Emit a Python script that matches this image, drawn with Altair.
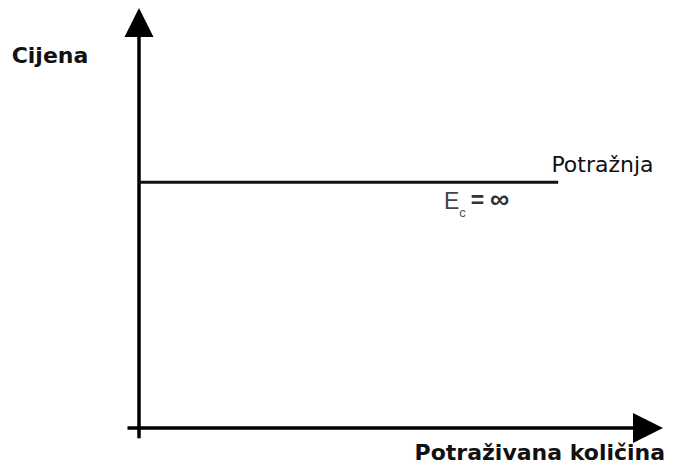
import altair as alt
import pandas as pd

# --- schematic data (quantity / price units, 0..100 for the axes) ---
AXIS_MAX = 100.0          # tip of each axis arrow
AXIS_START = -2.2         # small overhang of each axis past the origin
LINE_END = 96.0           # axis lines end under the arrow heads
demand_price = [58.5]     # perfectly elastic demand: constant price
demand_q = [0.0, 80.0]    # drawn from q = 0 to q = 80

price_label = "Cijena"
quantity_label = "Potraživana količina"
demand_label = "Potražnja"
elasticity_E = "E"
elasticity_sub = "c"
elasticity_eq = "="
elasticity_inf = "∞"

# --- scales: map data units onto the 662x455 canvas ---
PX_X = 5.24
PX_Y = 4.2
W, H = 662, 455
XMIN = -131 / PX_X
XMAX = XMIN + W / PX_X
YMAX = 100.0
YMIN = YMAX - H / PX_Y

xs = alt.Scale(domain=[XMIN, XMAX], nice=False, zero=False)
ys = alt.Scale(domain=[YMIN, YMAX], nice=False, zero=False)


def X(f="x"):
    return alt.X(f"{f}:Q", scale=xs, axis=None)


def Y(f="y"):
    return alt.Y(f"{f}:Q", scale=ys, axis=None)


# axes lines
x_axis = pd.DataFrame({"x": [AXIS_START], "x2": [LINE_END], "y": [0.0]})
y_axis = pd.DataFrame({"x": [0.0], "y": [AXIS_START * 1.1], "y2": [LINE_END]})

x_line = alt.Chart(x_axis).mark_rule(color="black", strokeWidth=3.5).encode(
    x=X(), x2="x2:Q", y=Y())
y_line = alt.Chart(y_axis).mark_rule(color="black", strokeWidth=3.5).encode(
    x=X(), y=Y(), y2="y2:Q")

# arrow heads
up_tip = pd.DataFrame({"x": [0.0], "y": [AXIS_MAX]})
right_tip = pd.DataFrame({"x": [AXIS_MAX], "y": [0.0]})
up_arrow = alt.Chart(up_tip).mark_point(
    shape="M0,0L-0.5,1L0.5,1Z", filled=True, opacity=1, color="black",
    size=58 * 58, strokeWidth=0).encode(x=X(), y=Y())
right_arrow = alt.Chart(right_tip).mark_point(
    shape="M0,0L-1,-0.5L-1,0.5Z", filled=True, opacity=1, color="black",
    size=60 * 60, strokeWidth=0).encode(x=X(), y=Y())

# demand line
demand = pd.DataFrame({"x": [demand_q[0]], "x2": [demand_q[1]], "y": demand_price})
demand_line = alt.Chart(demand).mark_rule(color="#111111", strokeWidth=3).encode(
    x=X(), x2="x2:Q", y=Y())


# labels
def label(df, **kw):
    return alt.Chart(df).mark_text(**kw).encode(x=X(), y=Y(), text="t:N")


lab_price = label(pd.DataFrame({"x": [-24.3], "y": [86.9], "t": [price_label]}),
                  align="left", baseline="alphabetic", font="DejaVu Sans",
                  fontWeight="bold", fontSize=22, color="#111111")
lab_qty = label(pd.DataFrame({"x": [100.4], "y": [-7.7], "t": [quantity_label]}),
                align="right", baseline="alphabetic", font="DejaVu Sans",
                fontWeight="bold", fontSize=22, color="#111111")
lab_demand = label(pd.DataFrame({"x": [78.7], "y": [60.95], "t": [demand_label]}),
                   align="left", baseline="alphabetic", font="DejaVu Sans",
                   fontSize=22, color="#111111")
lab_E = label(pd.DataFrame({"x": [58.2], "y": [52.1], "t": [elasticity_E]}),
              align="left", baseline="alphabetic", font="Liberation Sans",
              fontSize=23, color="#444444")
lab_c = label(pd.DataFrame({"x": [61.1], "y": [50.3], "t": [elasticity_sub]}),
              align="left", baseline="alphabetic", font="Liberation Sans",
              fontSize=13, color="#555555")
lab_eq = label(pd.DataFrame({"x": [63.3], "y": [52.4], "t": [elasticity_eq]}),
               align="left", baseline="alphabetic", font="Liberation Sans",
               fontWeight="bold", fontSize=23, color="#333333")
lab_inf = label(pd.DataFrame({"x": [67.0], "y": [52.4], "t": [elasticity_inf]}),
                align="left", baseline="alphabetic", font="Liberation Sans",
                fontWeight="bold", fontSize=27, color="#333333")

chart = alt.layer(
    x_line, y_line, demand_line, up_arrow, right_arrow,
    lab_price, lab_qty, lab_demand, lab_E, lab_c, lab_eq, lab_inf,
).properties(
    width=W, height=H, padding=0, autosize=alt.AutoSizeParams(type="none"),
    background="white",
).configure_view(stroke=None)

chart.save("out.html", embed_options={"renderer": "svg", "actions": False})
